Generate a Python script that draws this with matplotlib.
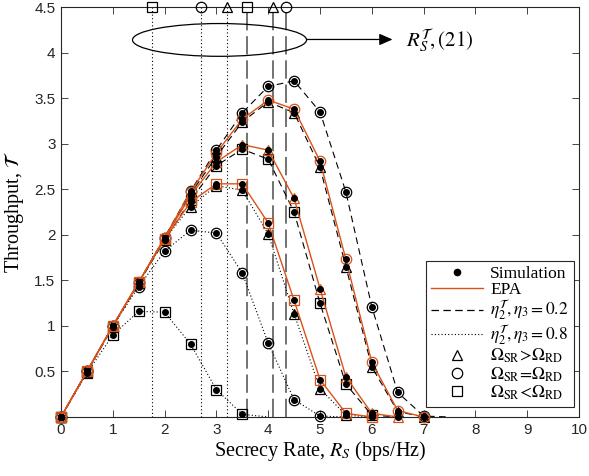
import matplotlib
matplotlib.use('Agg')
import matplotlib.pyplot as plt
from matplotlib.patches import Ellipse
from matplotlib.lines import Line2D

plt.rcParams['mathtext.fontset'] = 'stix'
plt.rcParams['font.family'] = ['Liberation Serif', 'DejaVu Serif']

# ---------------- data ----------------
rs = [0, 0.5, 1, 1.5, 2, 2.5, 3, 3.5, 4, 4.5, 5, 5.5, 6, 6.5, 7, 7.5]

# eta3 = 0.2 (dashed)
d02_gt = [0, 0.50, 1.00, 1.48, 1.97, 2.45, 2.86, 3.24, 3.46, 3.34, 2.74, 1.65, 0.55, 0.06, 0.00]
d02_eq = [0, 0.50, 1.00, 1.47, 1.97, 2.48, 2.93, 3.34, 3.63, 3.69, 3.35, 2.47, 1.21, 0.27, 0.01, 0.00]
d02_lt = [0, 0.49, 0.99, 1.47, 1.94, 2.38, 2.76, 2.94, 2.83, 2.25, 1.25, 0.36, 0.02, 0.00]

# eta3 = 0.8 (dotted)
d08_gt = [0, 0.50, 1.00, 1.47, 1.95, 2.31, 2.54, 2.49, 2.01, 1.13, 0.31, 0.02, 0.00]
d08_eq = [0, 0.50, 1.00, 1.43, 1.82, 2.05, 2.02, 1.58, 0.81, 0.19, 0.01, 0.00]
d08_lt = [0, 0.48, 0.90, 1.16, 1.15, 0.80, 0.30, 0.03, 0.00]

# EPA (orange)
epa_gt = [0, 0.50, 1.00, 1.48, 1.96, 2.43, 2.80, 2.99, 2.93, 2.40, 1.41, 0.44, 0.04, 0.00]
epa_eq = [0, 0.50, 1.00, 1.48, 1.97, 2.47, 2.90, 3.27, 3.48, 3.38, 2.81, 1.73, 0.60, 0.07, 0.00]
epa_lt = [0, 0.50, 1.00, 1.48, 1.95, 2.36, 2.56, 2.56, 2.13, 1.28, 0.41, 0.04, 0.00]

# number of marked points per curve (trailing points are line-only)
n_d02 = {'gt': 15, 'eq': 15, 'lt': 13}
n_d08 = {'gt': 12, 'eq': 11, 'lt': 8}

# optimal secrecy rates R_S^T (21)
rst_02 = [3.6, 4.1, 4.35]          # square, triangle, circle
rst_08 = [1.75, 2.7, 3.2]          # square, circle, triangle
rst_02_mk = ['s', '^', 'o']
rst_08_mk = ['s', 'o', '^']

xticks = [0, 1, 2, 3, 4, 5, 6, 7, 8, 9, 10]
yticks = [0.5, 1, 1.5, 2, 2.5, 3, 3.5, 4, 4.5]

ORANGE = '#D95319'
MS = 7.5
DOT = 4.0

fig = plt.figure(figsize=(5.89, 4.76), dpi=100)
ax = fig.add_axes([0.1036, 0.124, 0.8794, 0.861])

# vertical lines for R_S^T
for xv, mk in zip(rst_02, rst_02_mk):
    ax.plot([xv, xv], [0, 4.5], color='#5a5a5a', lw=1.2, dashes=(11, 3.5), zorder=1)
    ax.plot([xv], [4.5], marker=mk, ms=MS, mfc='none', mec='k', mew=0.9, clip_on=False, zorder=5)
for xv, mk in zip(rst_08, rst_08_mk):
    ax.plot([xv, xv], [0, 4.5], color='k', lw=0.8, ls=(0, (1, 2.2)), zorder=1)
    ax.plot([xv], [4.5], marker=mk, ms=MS, mfc='none', mec='k', mew=0.9, clip_on=False, zorder=5)

def curve(y, mk, ls, color, nmark, z):
    x = rs[:len(y)]
    if ls == 'dashed':
        ax.plot(x, y, color=color, lw=0.8, dashes=(6, 4), zorder=z)
    elif ls == 'dotted':
        ax.plot(x, y, color=color, lw=0.8, ls=(0, (1, 2)), zorder=z)
    else:
        ax.plot(x, y, color=color, lw=1.0, zorder=z)
    ax.plot(x[:nmark], y[:nmark], ls='none', marker=mk, ms=MS, mfc='none',
            mec=color, mew=0.9, clip_on=False, zorder=z + 0.5)
    ax.plot(x[:nmark], y[:nmark], ls='none', marker='o', ms=DOT, mfc='k',
            mec='k', clip_on=False, zorder=10)

curve(d02_gt, '^', 'dashed', 'k', n_d02['gt'], 2)
curve(d02_eq, 'o', 'dashed', 'k', n_d02['eq'], 2)
curve(d02_lt, 's', 'dashed', 'k', n_d02['lt'], 2)
curve(d08_gt, '^', 'dotted', 'k', n_d08['gt'], 2)
curve(d08_eq, 'o', 'dotted', 'k', n_d08['eq'], 2)
curve(d08_lt, 's', 'dotted', 'k', n_d08['lt'], 2)
curve(epa_gt, '^', 'solid', ORANGE, len(epa_gt), 4)
curve(epa_eq, 'o', 'solid', ORANGE, len(epa_eq), 4)
curve(epa_lt, 's', 'solid', ORANGE, len(epa_lt), 4)

# ellipse annotation
ax.add_patch(Ellipse((3.06, 4.14), 3.36, 0.36, fill=False, ec='k', lw=0.9, zorder=6))
ax.annotate('', xy=(6.4, 4.145), xytext=(4.74, 4.145),
            arrowprops=dict(arrowstyle='-|>,head_length=0.8,head_width=0.35',
                            color='k', lw=0.9, shrinkA=0, shrinkB=0), zorder=6)
ax.text(6.66, 4.14, r'$R_S^{\mathcal{T}}, (21)$', fontsize=15, va='center', ha='left')

ax.set_xlim(0, 10)
ax.set_ylim(0, 4.5)
ax.set_xticks(xticks)
ax.set_yticks(yticks)
ax.set_xticklabels([str(v) for v in xticks], family='Liberation Sans', fontsize=11, color='#262626')
ax.set_yticklabels([('%g' % v) for v in yticks], family='Liberation Sans', fontsize=11, color='#262626')
ax.tick_params(direction='in', top=True, right=True, length=5, width=0.6, color='#262626', pad=4)
for s in ax.spines.values():
    s.set_color('#262626')
    s.set_linewidth(0.8)

ax.set_xlabel(r'Secrecy Rate, $R_S$ (bps/Hz)', fontsize=14.5, labelpad=2)
ax.set_ylabel(r'Throughput, $\mathcal{T}$', fontsize=14.5, labelpad=6)

handles = [
    Line2D([], [], ls='none', marker='o', ms=DOT + 0.5, mfc='k', mec='k'),
    Line2D([], [], color=ORANGE, lw=1.0),
    Line2D([], [], color='k', lw=0.9, dashes=(6, 3.5)),
    Line2D([], [], color='k', lw=0.8, ls=(0, (1, 2))),
    Line2D([], [], ls='none', marker='^', ms=MS, mfc='none', mec='k', mew=0.9),
    Line2D([], [], ls='none', marker='o', ms=MS, mfc='none', mec='k', mew=0.9),
    Line2D([], [], ls='none', marker='s', ms=MS - 1, mfc='none', mec='k', mew=0.9),
]
labels = [
    'Simulation',
    'EPA',
    r'$\eta_2^{\mathcal{T}}, \eta_3 = 0.2$',
    r'$\eta_2^{\mathcal{T}}, \eta_3 = 0.8$',
    r'$\Omega_{\rm SR}\!>\!\Omega_{\rm RD}$',
    r'$\Omega_{\rm SR}\!=\!\Omega_{\rm RD}$',
    r'$\Omega_{\rm SR}\!<\!\Omega_{\rm RD}$',
]
leg = ax.legend(handles, labels, loc='lower right', bbox_to_anchor=(0.99, 0.024),
                borderaxespad=0, fontsize=12.5, handlelength=3.0, handletextpad=0.4,
                labelspacing=0.0, borderpad=0.3, fancybox=False, framealpha=1,
                edgecolor='#262626')
leg.get_frame().set_linewidth(0.8)
leg.set_zorder(20)

fig.savefig('out.png', dpi=100)
